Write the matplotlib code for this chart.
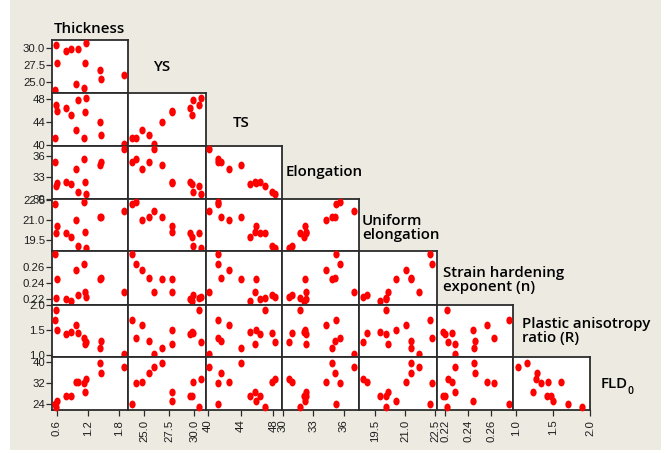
import matplotlib
matplotlib.use("Agg")
import matplotlib.pyplot as plt
from matplotlib.path import Path
from matplotlib.transforms import Affine2D
from matplotlib.patches import Rectangle

# Sheet-steel test results, one entry per sample
thickness = [0.573, 0.592, 0.606, 0.786, 0.882, 0.979, 1.012, 1.128, 1.153, 1.173, 1.432, 1.463, 1.896]
ys = [23.8, 30.47, 27.8, 29.57, 29.8, 24.74, 29.9, 24.14, 27.8, 30.67, 26.74, 25.5, 25.97]
ts = [41.18, 46.99, 45.92, 46.4, 45.2, 42.53, 47.88, 41.18, 45.81, 48.18, 44.03, 41.64, 40.16]
elongation = [35.2, 31.74, 32.21, 32.31, 32.11, 34.2, 30.88, 35.63, 32.31, 30.64, 34.82, 35.16, 37.0]
uniform_elongation = [22.25, 20.05, 20.55, 20.03, 19.75, 21.03, 19.08, 22.37, 20.13, 18.92, 21.28, 21.28, 21.7]
n_value = [0.2756, 0.222, 0.2446, 0.220, 0.218, 0.2562, 0.2258, 0.2628, 0.2287, 0.2228, 0.2454, 0.246, 0.2287]
r_value = [1.707, 1.892, 1.505, 1.424, 1.469, 1.609, 1.437, 1.338, 1.226, 1.27, 1.145, 1.288, 1.024]
fld0 = [24.0, 22.8, 25.4, 27.3, 27.3, 32.3, 32.6, 32.0, 28.8, 33.8, 39.85, 36.0, 38.3]

variables = [thickness, ys, ts, elongation, uniform_elongation, n_value, r_value, fld0]
limits = [(0.509, 1.979), (23.37, 31.17), (39.75, 49.07), (29.93, 37.48),
          (18.7, 22.6), (0.2130, 0.2791), (0.96, 2.0), (21.8, 42.0)]
tick_values = [[0.6, 1.2, 1.8], [25.0, 27.5, 30.0], [40, 44, 48], [30, 33, 36],
               [19.5, 21.0, 22.5], [0.22, 0.24, 0.26], [1.0, 1.5, 2.0], [24, 32, 40]]
tick_labels = [["0.6", "1.2", "1.8"], ["25.0", "27.5", "30.0"], ["40", "44", "48"],
               ["30", "33", "36"], ["19.5", "21.0", "22.5"], ["0.22", "0.24", "0.26"],
               ["1.0", "1.5", "2.0"], ["24", "32", "40"]]

W, H = 670, 454
fig = plt.figure(figsize=(W / 100, H / 100), dpi=100)
fig.patch.set_facecolor("white")
fig.patches.append(Rectangle((10 / W, 1 - 450 / H), 651 / W, 450 / H,
                             transform=fig.transFigure, facecolor="#EDEAE1",
                             edgecolor="none", zorder=-10))

# grid cell edges in pixels
col_edges = [52, 128, 206, 282, 359, 437, 513, 590]
row_edges = [40, 93, 146, 199, 251, 305, 357, 410]

dot = Path.unit_circle().transformed(Affine2D().scale(0.8, 1.0))
tick_font = dict(family="Liberation Sans", size=8.2, color="#1e1e1e")
frame_color = "#2c2c2c"

for r in range(7):
    yi = r + 1
    for c in range(r + 1):
        xi = c
        x0, x1 = col_edges[c], col_edges[c + 1]
        y0, y1 = row_edges[r], row_edges[r + 1]
        ax = fig.add_axes([x0 / W, 1 - y1 / H, (x1 - x0) / W, (y1 - y0) / H])
        ax.set_facecolor("white")
        ax.scatter(variables[xi], variables[yi], marker=dot, s=32, c="#FF0000",
                   linewidths=0, clip_on=False, zorder=3)
        ax.set_xlim(*limits[xi])
        ax.set_ylim(*limits[yi])
        for sp in ax.spines.values():
            sp.set_color(frame_color)
            sp.set_linewidth(1.3)
        ax.tick_params(direction="out", length=4, width=0.9, color=frame_color, pad=1)
        ax.tick_params(axis="x", pad=3)
        if c == 0:
            ax.set_yticks(tick_values[yi])
            ax.set_yticklabels(tick_labels[yi], fontdict=tick_font)
        else:
            ax.set_yticks([])
        if r == 6:
            ax.set_xticks(tick_values[xi])
            ax.set_xticklabels(tick_labels[xi], fontdict=tick_font, rotation=90)
        else:
            ax.set_xticks([])

label_font = dict(family="Open Sans", weight="semibold", size=10.8, color="#000000")


def put(text, x, y, **kw):
    return fig.text(x / W, 1 - y / H, text, ha="left", va="center",
                    linespacing=1.05, **label_font, **kw)


put("Thickness", 54, 29)
put("YS", 153, 67)
put("TS", 233, 123)
put("Elongation", 286, 172)
put("Uniform\nelongation", 362, 228)
put("Strain hardening\nexponent (n)", 443, 280)
put("Plastic anisotropy\nratio (R)", 522, 331)
fld = put("FLD", 601, 384)

fig.canvas.draw()
bb = fld.get_window_extent()
fig.text(bb.x1 / W, 1 - 391 / H, "0", ha="left", va="center",
         family="Open Sans", weight="semibold", size=7.5, color="#000000")

fig.savefig("out.png", dpi=100)
